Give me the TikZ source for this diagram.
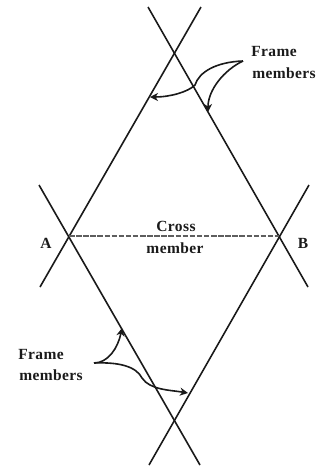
\documentclass[tikz,border=0pt]{standalone}
\usepackage{fontspec}
\setmainfont[LetterSpace=2.5]{Liberation Serif}
\usetikzlibrary{calc,arrows.meta}
\definecolor{DInk}{HTML}{1A1A1A}
\definecolor{DashGray}{HTML}{5E5E5E}
\tikzset{
    frameline/.style={DInk, line width=1.6pt},
    crossline/.style={DashGray, line width=2pt, dash pattern=on 5.5pt off 1.6pt},
    pointer/.style={DInk, line width=1.6pt, -{Stealth[length=8pt, width=8pt, inset=2.5pt]}},
    lbl/.style={font=\fontsize{15.5}{19}\selectfont\bfseries, text=DInk, align=center, inner sep=0pt},
}
\newcommand{\Canvas}{
\useasboundingbox (0,0) rectangle (324,467);

\coordinate (top-cross) at (174,52);
\coordinate (bottom-cross) at (174,421);
\coordinate (joint-A) at (69,236);
\coordinate (joint-B) at (279,236);

\coordinate (top-left) at (148,7);
\coordinate (top-right) at (201,7);
\coordinate (A-up) at (39,185);
\coordinate (A-down) at (40,287);
\coordinate (B-up) at (309,185);
\coordinate (B-down) at (308,287);
\coordinate (bottom-left) at (149,465);
\coordinate (bottom-right) at (200,465);
}

\begin{document}
\begin{tikzpicture}[x=1pt, y=-1pt]
\Canvas

\draw[frameline] (top-right) -- (A-down);
\draw[frameline] (top-left) -- (B-down);
\draw[frameline] (A-up) -- (bottom-right);
\draw[frameline] (B-up) -- (bottom-left);

\draw[crossline] (joint-A) -- (joint-B);

\node[lbl] (label-A) at (46,243) {A};
\node[lbl] (label-B) at (303,243) {B};
\node[lbl] (cross-top) at (176,226) {Cross};
\node[lbl] (cross-bottom) at (175,248) {member};

\node[lbl] (frame-top) at (274,51) {Frame};
\node[lbl] (members-top) at (284,73) {members};
\node[lbl] (frame-low) at (41,354) {Frame};
\node[lbl] (members-low) at (51,375) {members};

\coordinate (tail-top) at (243,61);
\coordinate (tail-low) at (94,363);
\coordinate (tip-top-left) at (150,97);
\coordinate (tip-top-right) at (208,112);
\coordinate (tip-low-left) at (122,328);
\coordinate (tip-low-right) at (188,393);

\draw[pointer] (tail-top) .. controls (216,62) and (199,72) .. (195,85) .. controls (188,92) and (170,97) .. (tip-top-left);
\draw[pointer] (tail-top) .. controls (224,70) and (208,90) .. (tip-top-right);
\draw[pointer] (tail-low) .. controls (108,363) and (118,348) .. (tip-low-left);
\draw[pointer] (tail-low) .. controls (118,362) and (136,366) .. (142,378) .. controls (150,390) and (170,390) .. (tip-low-right);

\end{tikzpicture}
\end{document}
